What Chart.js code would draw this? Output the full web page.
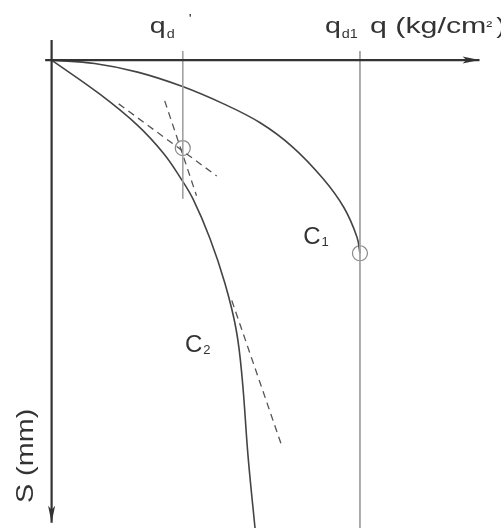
<!DOCTYPE html>
<html>
<head>
<meta charset="utf-8">
<script src="https://cdn.jsdelivr.net/npm/chart.js@4.4.1/dist/chart.umd.min.js"></script>
<style>
  html, body { margin: 0; background: #fff; }
  #wrap { width: 501px; height: 528px; }
</style>
</head>
<body>
<div id="wrap"><canvas id="curvaCarico"></canvas></div>
<script>
// campo degli assi: q (kg/cm²) in orizzontale, cedimento S verso il basso
const qMin = -1.2, qMax = 10.45;
const sMin = -1.4, sMax = 10.9;

// estremi delle frecce degli assi
const asseQ = [-0.15, 9.95];
const asseS = [-0.47, 10.78];

// carichi caratteristici
const qdPrime = 3.05;   // q_d'  (incrocio delle tangenti)
const sPrime = 2.05;
const qd1 = 7.17;       // q_d1  (rottura sulla curva C1)
const sRottura = 4.50;

// curva C1
const c1Q = [0, 1.0, 2.0, 3.03, 4.0, 4.85, 5.6, 6.31, 6.80, 7.10, 7.17];
const c1S = [0, 0.08, 0.28, 0.61, 1.02, 1.46, 2.02, 2.76, 3.44, 4.12, 4.50];

// curva C2
const c2Q = [0, 1.13, 2.0, 2.6, 3.0, 3.29, 3.68, 4.03, 4.29, 4.43, 4.57, 4.73];
const c2S = [0, 0.80, 1.52, 2.17, 2.75, 3.24, 4.15, 5.20, 6.27, 7.40, 9.25, 10.9];

// tangenti tratteggiate
const tgAQ = [1.56, 3.84], tgAS = [1.02, 2.70];
const tgBQ = [2.63, 3.37], tgBS = [0.95, 3.16];
const tgCQ = [4.19, 5.35], tgCS = [5.60, 8.98];

// riferimenti verticali (inizio/fine in S)
const vertPrimeS = [-0.21, 3.23];
const vertQd1S = [-0.21, sMax];

const FONT = '"Liberation Sans", Arial, sans-serif';
const INK = '#333';

function punti(qs, ss) { return qs.map((q, i) => ({ x: q, y: ss[i] })); }

function linea(data, colore, spessore, extra) {
    return Object.assign({
        data: data, showLine: true, borderColor: colore, borderWidth: spessore,
        pointRadius: 0, fill: false, tension: 0
    }, extra || {});
}

// testo allargato in orizzontale, come nel disegno originale
function scritta(ctx, str, x, y, size, sx) {
    ctx.save();
    ctx.translate(x, y);
    ctx.scale(sx, 1);
    ctx.font = size + 'px ' + FONT;
    ctx.fillStyle = INK;
    ctx.textBaseline = 'alphabetic';
    ctx.fillText(str, 0, 0);
    const w = ctx.measureText(str).width * sx;
    ctx.restore();
    return w;
}

const frecce = {
    id: 'frecce',
    afterDatasetsDraw(chart) {
        const ctx = chart.ctx;
        const xs = chart.scales.x, ys = chart.scales.y;
        ctx.save();
        ctx.fillStyle = '#333';
        // freccia asse q
        let tx = xs.getPixelForValue(asseQ[1]), ty = ys.getPixelForValue(0);
        ctx.beginPath();
        ctx.moveTo(tx, ty);
        ctx.lineTo(tx - 17, ty - 3.5);
        ctx.lineTo(tx - 13, ty);
        ctx.lineTo(tx - 17, ty + 3.5);
        ctx.closePath();
        ctx.fill();
        // freccia asse S
        tx = xs.getPixelForValue(0); ty = ys.getPixelForValue(asseS[1]);
        ctx.beginPath();
        ctx.moveTo(tx, ty);
        ctx.lineTo(tx - 3.5, ty - 17);
        ctx.lineTo(tx, ty - 13);
        ctx.lineTo(tx + 3.5, ty - 17);
        ctx.closePath();
        ctx.fill();
        ctx.restore();
    }
};

const etichette = {
    id: 'etichette',
    afterDraw(chart) {
        const ctx = chart.ctx;
        const xs = chart.scales.x, ys = chart.scales.y;
        const y0 = ys.getPixelForValue(0);
        const base = y0 - 27;

        // q_d'
        let x = xs.getPixelForValue(qdPrime) - 33;
        x += scritta(ctx, 'q', x, base, 22, 1.3) + 1;
        scritta(ctx, 'd', x, base + 5, 12, 1.2);
        scritta(ctx, "'", xs.getPixelForValue(qdPrime) + 6, base - 10, 13, 1.2);

        // q_d1
        x = xs.getPixelForValue(qd1) - 35;
        x += scritta(ctx, 'q', x, base, 22, 1.3) + 1;
        scritta(ctx, 'd1', x, base + 5, 12, 1.2);

        // unità dell'asse orizzontale
        x = xs.getPixelForValue(qd1) + 10;
        x += scritta(ctx, 'q (kg/cm', x, base, 22, 1.38);
        x += scritta(ctx, '²', x, base - 2, 15, 1.2);
        scritta(ctx, ')', x + 4, base, 22, 1.3);

        // nomi delle curve
        x = xs.getPixelForValue(5.85);
        let y = ys.getPixelForValue(4.3) - 1;
        x += scritta(ctx, 'C', x, y, 24, 1.0) + 1;
        scritta(ctx, '1', x, y + 2, 13, 1.0);

        x = xs.getPixelForValue(3.1);
        y = ys.getPixelForValue(6.8);
        x += scritta(ctx, 'C', x, y, 24, 1.0) + 1;
        scritta(ctx, '2', x, y + 2, 13, 1.0);

        // asse verticale S (mm)
        ctx.save();
        ctx.translate(xs.getPixelForValue(0) - 19, ys.getPixelForValue(10.32));
        ctx.rotate(-Math.PI / 2);
        scritta(ctx, 'S (mm)', 0, 0, 24, 1.2);
        ctx.restore();
    }
};

function initGrafico() {
    const ctx = document.getElementById('curvaCarico').getContext('2d');
    new Chart(ctx, {
        type: 'scatter',
        data: {
            datasets: [
                linea(punti(asseQ, [0, 0]), '#333', 2.2),
                linea(punti([0, 0], asseS), '#333', 2.2),
                linea(punti([qdPrime, qdPrime], vertPrimeS), '#a0a0a0', 1),
                linea(punti([qd1, qd1], vertQd1S), '#a0a0a0', 1),
                linea(punti(c1Q, c1S), '#444', 1.6, { tension: 0.4 }),
                linea(punti(c2Q, c2S), '#444', 1.6, { tension: 0.4 }),
                linea(punti(tgAQ, tgAS), '#555', 1.3, { borderDash: [7, 5] }),
                linea(punti(tgBQ, tgBS), '#555', 1.3, { borderDash: [7, 5] }),
                linea(punti(tgCQ, tgCS), '#555', 1.3, { borderDash: [7, 5] }),
                {
                    data: [{ x: qdPrime, y: sPrime }, { x: qd1, y: sRottura }],
                    showLine: false, pointRadius: 7.5, pointStyle: 'circle',
                    pointBorderColor: '#888', pointBackgroundColor: 'rgba(255,255,255,0)',
                    pointBorderWidth: 1.2
                }
            ]
        },
        options: {
            responsive: true,
            maintainAspectRatio: false,
            animation: false,
            layout: { padding: 0, autoPadding: false },
            plugins: { legend: { display: false }, tooltip: { enabled: false } },
            scales: {
                x: { type: 'linear', min: qMin, max: qMax, display: false },
                y: { type: 'linear', min: sMin, max: sMax, reverse: true, display: false }
            }
        },
        plugins: [frecce, etichette]
    });
}

window.onload = initGrafico;
</script>
</body>
</html>
